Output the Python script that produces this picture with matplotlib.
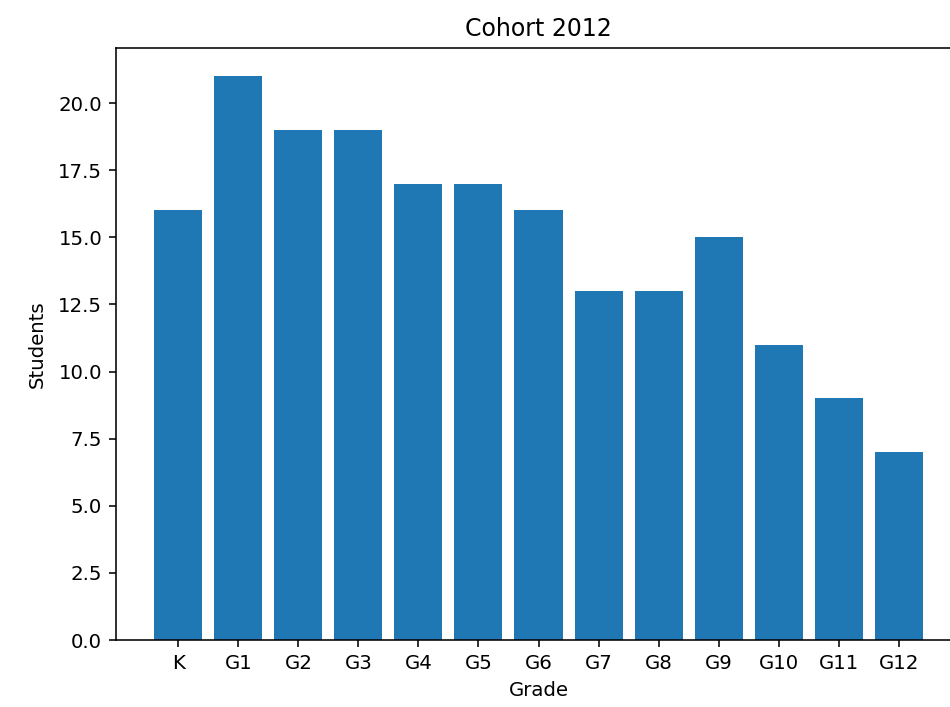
import numpy as np
import matplotlib
matplotlib.use('Agg')
import matplotlib.pyplot as plt

grades = ['K', 'G1', 'G2', 'G3', 'G4', 'G5', 'G6', 'G7', 'G8', 'G9', 'G10', 'G11', 'G12']
students = [16, 21, 19, 19, 17, 17, 16, 13, 13, 15, 11, 9, 7]

s = 1.42  # scale of the original render
plt.rcParams['font.size'] = 10 * s
plt.rcParams['axes.linewidth'] = 0.8 * s
for a in ('xtick', 'ytick'):
    plt.rcParams[a + '.major.size'] = 3.5 * s
    plt.rcParams[a + '.major.width'] = 0.8 * s
    plt.rcParams[a + '.major.pad'] = 3.5 * s

fig = plt.figure(figsize=(9.5, 7.07), dpi=100)
# original axes runs past the right edge of the picture (cropped)
ax = fig.add_axes([116 / 950, 67 / 707, 845 / 950, 592 / 707])
ax.bar(grades, students, color='#1f77b4')
ax.spines['right'].set_visible(False)
ax.set_title('Cohort 2012', fontsize=12 * s, pad=6 * s)
ax.set_xlabel('Grade', labelpad=4 * s)
ax.set_ylabel('Students', labelpad=6 * s)
fig.savefig('out.png', dpi=100)
